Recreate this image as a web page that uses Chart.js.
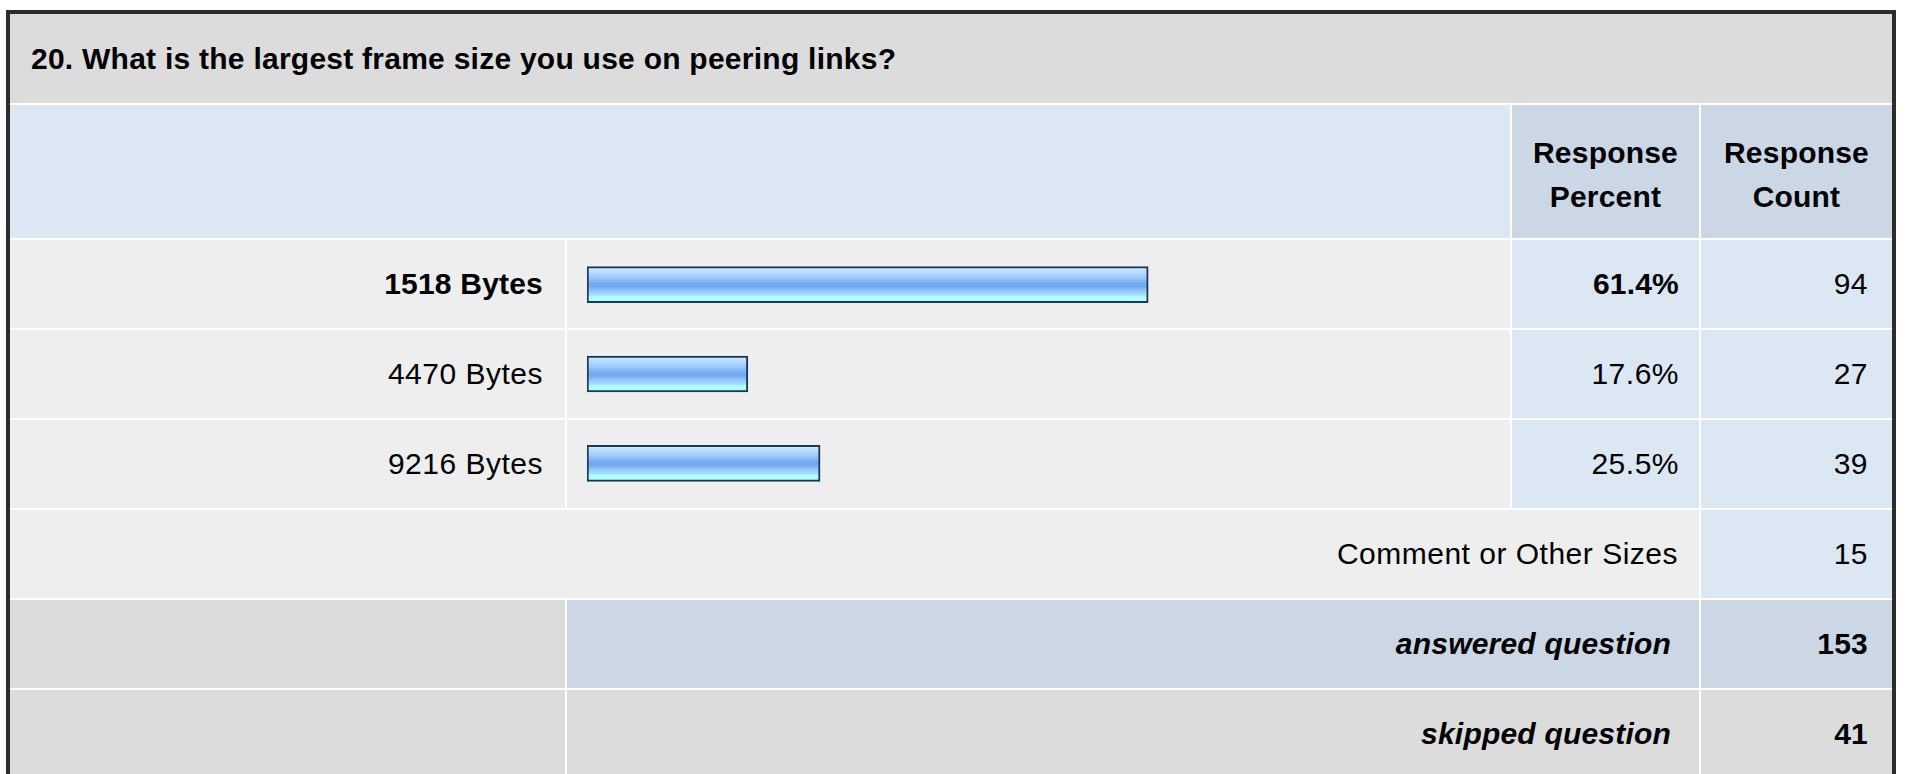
<!DOCTYPE html>
<html>
<head>
<meta charset="utf-8">
<script src="https://cdn.jsdelivr.net/npm/chart.js@4/dist/chart.umd.min.js"></script>
<style>
  body { margin: 0; background: #fff; font-family: "Liberation Sans", Arial, sans-serif; font-size: 30px; color: #000; overflow: hidden; }
  #frame { position: absolute; left: 6px; top: 10px; width: 1882px; height: 780px; border: 4px solid #2c2c2c; border-bottom: none; background: #fff; }
  #grid { display: grid; grid-template-columns: 555px 943px 187px 191px; grid-template-rows: 89px 133px 88px 88px 88px 88px 88px 88px; gap: 2px; }
  #grid > div { display: flex; align-items: center; white-space: nowrap; letter-spacing: 0.5px; }
  .right { justify-content: flex-end; }
  .grey { background: #dcdcdc; }
  .light { background: #eeeeee; }
  .blue { background: #dce7f4; }
  .blue2 { background: #cbd7e5; }
  #grid > .b { font-weight: bold; letter-spacing: 0.2px; }
  #grid > .bi { font-weight: bold; font-style: italic; letter-spacing: 0.2px; }
  #bars { position: absolute; left: 567px; top: 240px; }
</style>
</head>
<body>
<div id="frame"><div id="grid"></div></div>
<canvas id="bars" width="943" height="268"></canvas>
<script>
const question = "20. What is the largest frame size you use on peering links?"
const answers = ["1518 Bytes", "4470 Bytes", "9216 Bytes"]
const percents = [61.4, 17.6, 25.5]
const counts = [94, 27, 39]
const other_label = "Comment or Other Sizes"
const other_count = 15
const answered = 153
const skipped = 41

const grid = document.getElementById("grid")

function cell(text, cls, style){
    const d = document.createElement("div")
    d.className = cls
    if (text !== null) d.textContent = text
    if (style) d.style.cssText = style
    grid.appendChild(d)
    return d
}

// top answer gets bold text
const top_idx = counts.indexOf(Math.max(...counts))

cell(question, "grey b", "grid-column:1/5;padding-left:21px;letter-spacing:0.25px")
cell("", "blue", "grid-column:1/3")
cell(null, "blue2 b", "justify-content:center;text-align:center;line-height:44px;padding-top:7px").innerHTML = "Response<br>Percent"
cell(null, "blue2 b", "justify-content:center;text-align:center;line-height:44px;padding-top:7px").innerHTML = "Response<br>Count"

answers.forEach((a, i) => {
    const w = i === top_idx ? " b" : ""
    cell(a, "light right" + w, "padding-right:22px")
    cell("", "light")
    cell(percents[i].toFixed(1) + "%", "blue right" + w, "padding-right:20px")
    cell(String(counts[i]), "blue right", "padding-right:24px")
})

cell(other_label, "light right", "grid-column:1/4;padding-right:21px")
cell(String(other_count), "blue right", "padding-right:24px")

cell("", "grey")
cell("answered question", "blue2 right bi", "grid-column:2/4;padding-right:28px")
cell(String(answered), "blue2 right b", "padding-right:24px")

cell("", "grey")
cell("skipped question", "grey right bi", "grid-column:2/4;padding-right:28px")
cell(String(skipped), "grey right b", "padding-right:24px")

function barFill(c){
    const chart = c.chart
    if (!chart.chartArea || !chart.scales.y) return "#90c4fa"
    const yc = chart.scales.y.getPixelForValue(c.dataIndex)
    const g = chart.ctx.createLinearGradient(0, yc - 18, 0, yc + 18)
    g.addColorStop(0, "#d6eeff")
    g.addColorStop(0.15, "#b6dcff")
    g.addColorStop(0.3, "#9ccaff")
    g.addColorStop(0.45, "#78acf0")
    g.addColorStop(0.55, "#74a8f0")
    g.addColorStop(0.66, "#90c6fa")
    g.addColorStop(0.78, "#a6dcff")
    g.addColorStop(0.84, "#b0ffff")
    g.addColorStop(1, "#b0ffff")
    return g
}

const bar_chart = new Chart(document.getElementById("bars").getContext("2d"), {
    type: "bar",
    data: {
        labels: answers,
        datasets: [
            {
                label: "Response Percent",
                data: percents,
                backgroundColor: barFill,
                borderColor: "#1d3557",
                borderWidth: 2,
                borderSkipped: false,
                barThickness: 36,
            }
        ]
    },
    options: {
        indexAxis: "y",
        responsive: false,
        maintainAspectRatio: false,
        animation: false,
        layout: { padding: { left: 20, right: 9, top: 0, bottom: 0 } },
        plugins: {
            legend: { display: false },
            tooltip: { enabled: false }
        },
        scales: {
            x: { min: 0, max: 100, display: false },
            y: { display: false }
        }
    }
})
</script>
</body>
</html>
